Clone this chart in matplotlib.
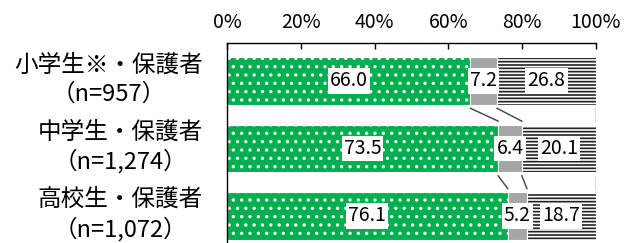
import matplotlib.pyplot as plt

plt.rcParams['font.family'] = ['Noto Sans CJK JP', 'DejaVu Sans']
plt.rcParams['hatch.linewidth'] = 1.2

groups = ["小学生※・保護者\n（n=957）", "中学生・保護者\n（n=1,274）", "高校生・保護者\n（n=1,072）"]
v_green = [66.0, 73.5, 76.1]
v_gray = [7.2, 6.4, 5.2]
v_stripe = [26.8, 20.1, 18.7]

fig = plt.figure(figsize=(6.32, 2.43), dpi=100)
ax = fig.add_axes([0.359, 0.0, 0.584, 0.823])

y = list(range(len(groups)))
h = 0.71

ax.barh(y, v_green, height=h, color="#00b050", edgecolor="white", hatch="..", linewidth=0.8)
ax.barh(y, v_gray, left=v_green, height=h, color="#a6a6a6", edgecolor="white", linewidth=0.8)
left3 = [a + b for a, b in zip(v_green, v_gray)]
ax.barh(y, v_stripe, left=left3, height=h, color="white", edgecolor="#222222", hatch="-----", linewidth=0)
ax.barh(y, v_stripe, left=left3, height=h, color="none", edgecolor="white", linewidth=0.8)

# connector lines between bars
for i in range(len(y) - 1):
    b1 = [v_green[i], v_green[i] + v_gray[i], 100]
    b2 = [v_green[i + 1], v_green[i + 1] + v_gray[i + 1], 100]
    for xa, xb in zip(b1, b2):
        ax.plot([xa, xb], [y[i] + h / 2 + 0.05, y[i + 1] - h / 2 - 0.05], color="#404040", lw=1)

# value labels
for i in y:
    starts = [0, v_green[i], left3[i]]
    vals = [v_green[i], v_gray[i], v_stripe[i]]
    for s, v in zip(starts, vals):
        ax.text(s + v / 2, i, f"{v:.1f}", ha="center", va="center", fontsize=14,
                bbox=dict(facecolor="white", edgecolor="none", pad=1.5))

ax.set_xlim(0, 100)
ax.set_ylim(2.40, -0.562)
ax.set_xticks([0, 20, 40, 60, 80, 100])
ax.set_xticklabels(["0%", "20%", "40%", "60%", "80%", "100%"])
ax.xaxis.tick_top()
ax.tick_params(axis="x", direction="in", length=4, width=1, pad=7, labelsize=14)
ax.set_yticks([])
for i, g in zip(y, groups):
    ax.text(-6.5, i - 0.02, g, ha="right", va="center", ma="center", fontsize=17,
            linespacing=1.32, clip_on=False)

for s in ["right", "bottom"]:
    ax.spines[s].set_visible(False)
ax.spines["top"].set_linewidth(1)
ax.spines["left"].set_linewidth(1)

fig.savefig("out.png", dpi=100)
